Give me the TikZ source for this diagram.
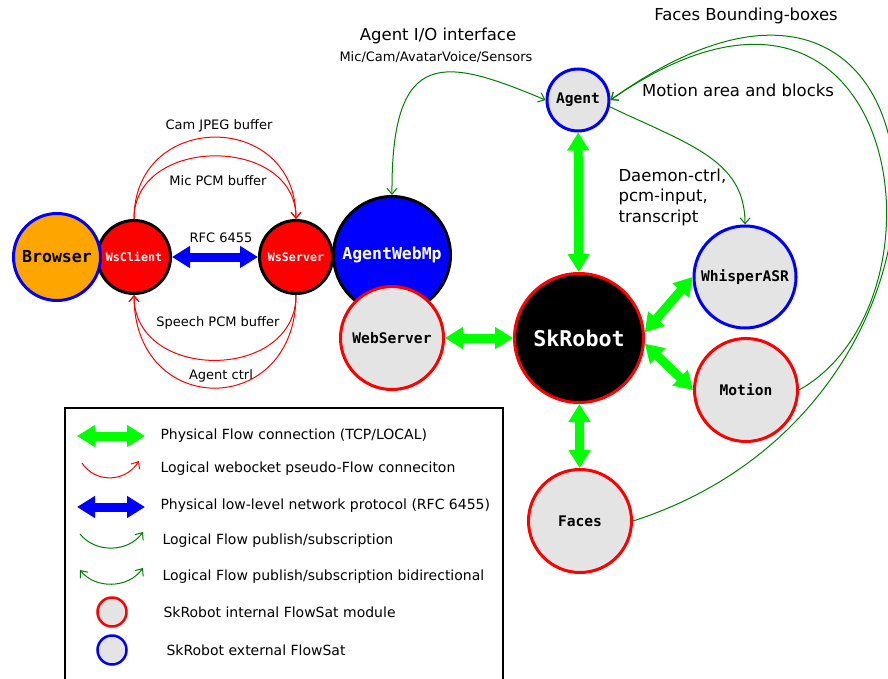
\documentclass[tikz,border=0pt]{standalone}
\usepackage{fontspec}
\setmainfont{DejaVu Sans}
\setmonofont{DejaVu Sans Mono}
\usetikzlibrary{arrows.meta}

\definecolor{satgray}{HTML}{E4E4E4}
\definecolor{browserorange}{HTML}{FFA500}
\definecolor{logicgreen}{HTML}{008000}
\newcommand{\fsz}[1]{\fontsize{#1}{#1}\selectfont}

\tikzset{
  sat/.style={circle,draw,line width=3pt,fill=satgray,inner sep=0pt,font=\ttfamily\bfseries\fsz{14.6}},
  intsat/.style={sat,draw=red},
  extsat/.style={sat,draw=blue},
  wsnode/.style={circle,draw=black,line width=3pt,fill=red,text=white,inner sep=0pt,minimum size=73pt,font=\ttfamily\bfseries\fsz{11.7}},
  physflow/.style={line width=9pt,draw=green,{Triangle[length=18pt,width=21pt]}-{Triangle[length=18pt,width=21pt]}},
  netflow/.style={physflow,draw=blue},
  wsflow/.style={draw=red,line width=1pt,-{Straight Barb[length=6pt,width=10pt]}},
  logflow/.style={draw=logicgreen,line width=1pt,-{Straight Barb[length=6pt,width=10pt]}},
  logboth/.style={logflow,{Straight Barb[length=6pt,width=10pt]}-{Straight Barb[length=6pt,width=10pt]}},
  lbl/.style={font=\fsz{13}},
  biglbl/.style={font=\fsz{16.5}},
  legtxt/.style={font=\fsz{14},anchor=west}
}

\begin{document}
\begin{tikzpicture}[x=1pt,y=-1pt]
\clip (0,0) rectangle (888,679);

% websocket side
\node[wsnode] (wsclient) at (134,257) {WsClient};
\node[circle,draw=blue,line width=3pt,fill=browserorange,inner sep=0pt,minimum size=87pt,font=\ttfamily\bfseries\fsz{16.6}] (browser) at (57,257) {Browser};
\node[circle,draw=black,line width=3pt,fill=blue,text=white,inner sep=0pt,minimum size=117pt,font=\ttfamily\bfseries\fsz{16.5}] (agentwebmp) at (392,255) {AgentWebMp};
\node[wsnode] (wsserver) at (296,257) {WsServer};
\node[intsat,minimum size=103pt] (webserver) at (392,338) {WebServer};

\draw[netflow] (wsclient) -- (wsserver);
\node[lbl] (lblrfc) at (221,238) {RFC 6455};

\draw[wsflow] (wsclient.north) .. controls +(0,-109) and +(0,-109) .. (wsserver.north);
\draw[wsflow] (wsclient.north) .. controls +(0,-84) and +(0,-84) .. (wsserver.north);
\draw[wsflow] (wsserver.south) .. controls +(0,87) and +(0,87) .. (wsclient.south);
\draw[wsflow] (wsserver.south) .. controls +(0,124) and +(0,124) .. (wsclient.south);
\node[lbl] (lblcam) at (219,126) {Cam JPEG buffer};
\node[lbl] (lblmic) at (218,181) {Mic PCM buffer};
\node[lbl] (lblspeech) at (218,323) {Speech PCM buffer};
\node[lbl] (lblctrl) at (221,376) {Agent ctrl};

% robot side
\node[circle,draw=red,line width=3pt,fill=black,text=white,inner sep=0pt,minimum size=129pt,font=\ttfamily\bfseries\fsz{21.7}] (skrobot) at (579,338) {SkRobot};
\node[extsat,minimum size=62pt] (agent) at (578,100) {Agent};
\node[extsat,minimum size=102pt] (whisper) at (745,277) {WhisperASR};
\node[intsat,minimum size=103pt] (motion) at (746,390) {Motion};
\node[intsat,minimum size=103pt] (faces) at (580,521) {Faces};

\draw[physflow] (agent) -- (skrobot);
\draw[physflow] (webserver) -- (skrobot);
\draw[physflow] (skrobot.5) -- (whisper.west);
\draw[physflow] (skrobot.-5) -- (motion.west);
\draw[physflow] (skrobot) -- (faces);

\draw[logboth] (agentwebmp.north) .. controls (391,45) and (445,58) .. (agent.west);
\draw[logflow] (agent.-12) .. controls (690,145) and (745,160) .. (whisper.north);
\draw[logflow] (motion.east) .. controls (960,300) and (900,-100) .. (agent.east);
\draw[logflow] (faces.east) .. controls (1010,400) and (960,-150) .. (agent.east);

\node[biglbl] (lblio) at (438,36) {Agent I/O interface};
\node[lbl] (lblsensors) at (436,57) {Mic/Cam/AvatarVoice/Sensors};
\node[biglbl] (lblfaces) at (746,16) {Faces Bounding-boxes};
\node[biglbl] (lblmotion) at (738,90) {Motion area and blocks};
\node[anchor=west,align=left,font=\fontsize{16.5}{20.5}\selectfont] (lbldaemon) at (615,197) {Daemon-ctrl,\\pcm-input,\\transcript};

% legend
\draw[line width=2pt] (65,408) rectangle (503,700);
\draw[physflow] (77,436) -- (145,436);
\draw[wsflow] (82,463) .. controls (95,483) and (125,483) .. (139,461);
\draw[netflow] (77,507) -- (145,507);
\draw[logflow] (80,534) .. controls (95,553) and (128,553) .. (143,532);
\draw[logboth] (80,570) .. controls (95,589) and (128,589) .. (143,568);
\node[intsat,line width=2.5pt,minimum size=29pt] (legint) at (112,612) {};
\node[extsat,line width=2.5pt,minimum size=29pt] (legext) at (112,650) {};

\node[legtxt] (legphys) at (157,436) {Physical Flow connection (TCP/LOCAL)};
\node[legtxt] (legws) at (157,469) {Logical webocket pseudo-Flow conneciton};
\node[legtxt] (legnet) at (157,506) {Physical low-level network protocol (RFC 6455)};
\node[legtxt] (leglog) at (159,541) {Logical Flow publish/subscription};
\node[legtxt] (legboth) at (159,577) {Logical Flow publish/subscription bidirectional};
\node[legtxt] (legintt) at (160,612) {SkRobot internal FlowSat module};
\node[legtxt] (legextt) at (163,650) {SkRobot external FlowSat};

\end{tikzpicture}
\end{document}
